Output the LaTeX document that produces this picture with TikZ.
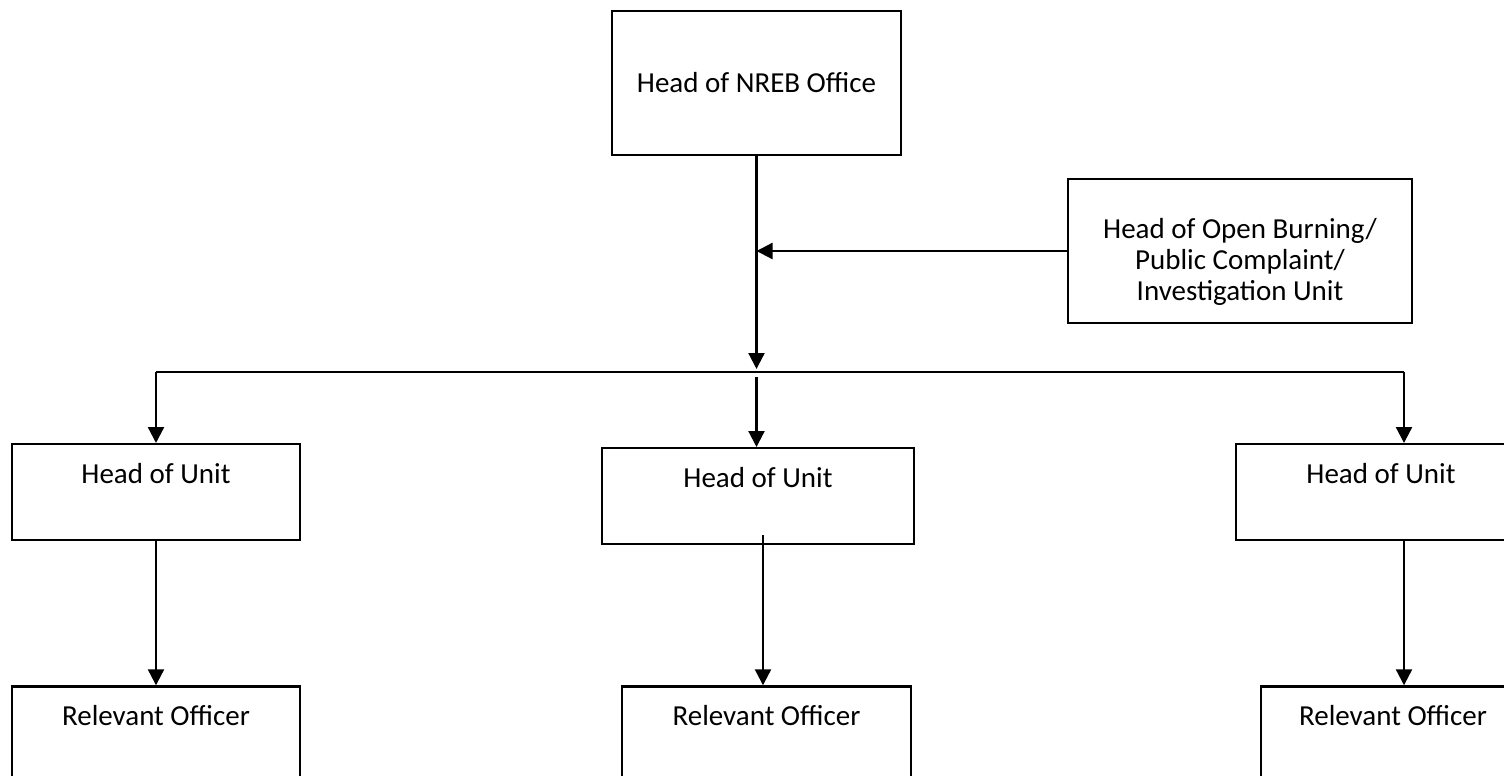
\documentclass[tikz,border=0pt]{standalone}
\usepackage{fontspec}
\setmainfont{Carlito}
\usetikzlibrary{arrows.meta,positioning}
\tikzset{
    %Define standard arrow tip
    >={Triangle[length=3.2mm,width=3.2mm]},
    %Define style for boxes
    orgbox/.style={
           rectangle,
           draw=black, line width=1.3pt,
           inner sep=0pt,
           font=\fontsize{16.5}{17.6}\selectfont,
           align=center},
    %Box with its text near the top
    topbox/.style={
           orgbox,
           text height=0.78cm,
           text depth=1.14cm},
    % Define arrow style
    pil/.style={
           ->,
           line width=1.3pt}
}
\begin{document}
\begin{tikzpicture}
\useasboundingbox (0,0) rectangle (30.08,-15.5);
\clip (0,0) rectangle (30.08,-15.5);
 %nodes
\node[orgbox, minimum width=5.78cm, minimum height=2.88cm] (nreb) at (15.13,-1.66) {Head of NREB Office};
\node[orgbox, minimum width=6.88cm, minimum height=2.88cm] (obpc) at (24.8,-5.02) {\rule{0pt}{0.84cm}Head of Open Burning/\\Public Complaint/\\Investigation Unit};
\node[topbox, minimum width=5.76cm, anchor=north] (unit1) at (3.12,-8.86) {Head of Unit};
\node[topbox, minimum width=6.24cm, anchor=north] (unit2) at (15.16,-8.94) {Head of Unit};
\node[topbox, minimum width=5.8cm, anchor=north] (unit3) at (27.62,-8.86) {Head of Unit};
\node[topbox, text depth=1.82cm, minimum width=5.76cm, below=2.88cm of unit1] (off1) {Relevant Officer};
\node[topbox, text depth=1.82cm, minimum width=5.78cm, below=2.8cm of unit2, xshift=0.17cm] (off2) {Relevant Officer};
\node[topbox, text depth=1.82cm, minimum width=5.28cm, below=2.88cm of unit3, xshift=0.24cm] (off3) {Relevant Officer};

 %branch points
\coordinate (bus) at (15.13,-7.44);
\coordinate (busR) at (28.08,-7.44);
\coordinate (mid2) at (15.26,-10.70);

 %connectors
\draw[pil, shorten >=0.06cm] (nreb.south) -- (bus);
\draw[pil] (obpc.west) -- (obpc.west -| nreb.south);
\draw[line width=1.3pt] (unit1.north |- bus) -- (busR);
\draw[pil] (unit1.north |- bus) -- (unit1.north);
\draw[pil] ([yshift=-0.1cm]bus) -- (bus |- unit2.north);
\draw[pil] (busR) -- (busR |- unit3.north);
\path[pil]
	(unit1) edge (off1);
\draw[pil] (mid2) -- (mid2 |- off2.north);
\draw[pil] (busR |- unit3.south) -- (busR |- off3.north);

\end{tikzpicture}
\end{document}
